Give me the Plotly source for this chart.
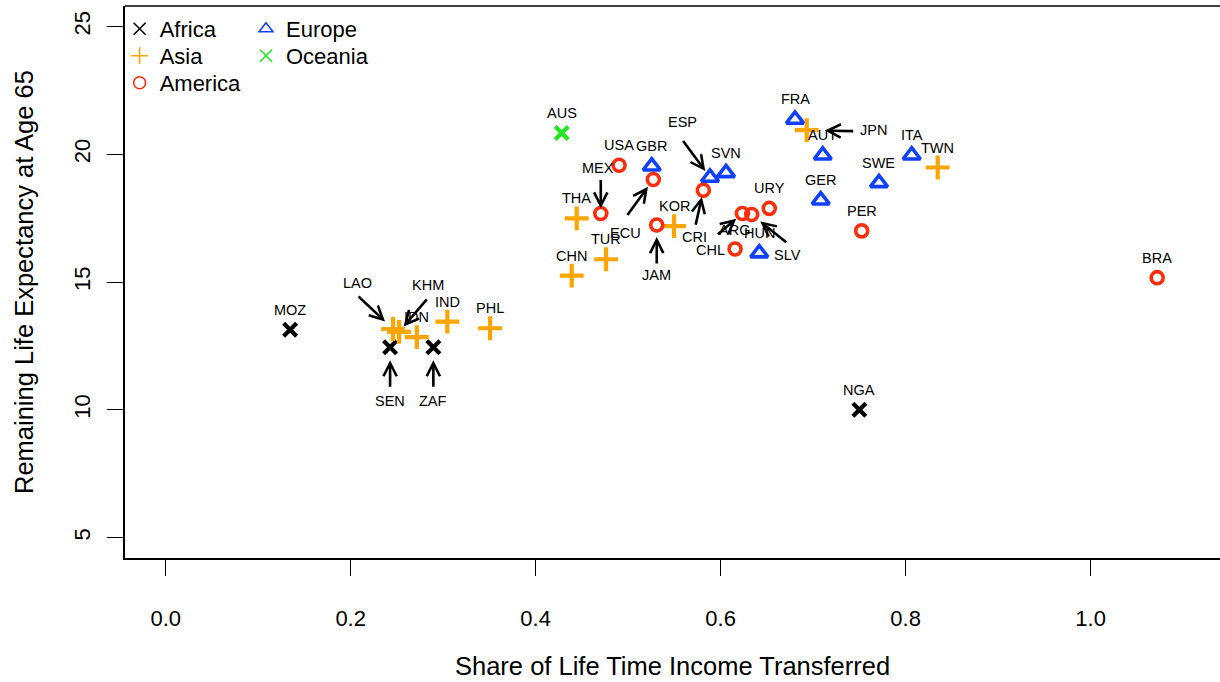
import plotly.graph_objects as go

# ---------------- data ----------------
codes = ["MOZ", "SEN", "ZAF", "NGA",
         "LAO", "KHM", "IDN", "IND", "PHL", "CHN", "TUR", "THA", "KOR", "JPN", "TWN",
         "USA", "MEX", "ECU", "JAM", "CRI", "ARG", "SLV", "URY", "CHL", "PER", "BRA",
         "GBR", "ESP", "SVN", "FRA", "AUT", "GER", "HUN", "SWE", "ITA",
         "AUS"]
share = [0.1345, 0.2426, 0.2894, 0.7500,
         0.2458, 0.2523, 0.2715, 0.3045, 0.3507, 0.4390, 0.4761, 0.4444, 0.5496, 0.6931, 0.8347,
         0.4902, 0.4704, 0.5272, 0.5309, 0.5813, 0.6235, 0.6336, 0.6526, 0.6156, 0.7525, 1.0720,
         0.5255, 0.5885, 0.6058, 0.6804, 0.7104, 0.7082, 0.6418, 0.7712, 0.8066,
         0.4282]
le65 = [13.13, 12.45, 12.45, 10.00,
        13.16, 13.05, 12.84, 13.45, 13.19, 15.25, 15.89, 17.49, 17.19, 20.94, 19.48,
        19.57, 17.68, 19.01, 17.23, 18.59, 17.68, 17.64, 17.88, 16.29, 17.00, 15.17,
        19.53, 19.09, 19.27, 21.36, 19.96, 18.20, 16.13, 18.88, 19.96,
        20.83]
region = (["Africa"] * 4 + ["Asia"] * 11 + ["America"] * 11 + ["Europe"] * 9 + ["Oceania"])

regions = ["Africa", "Asia", "America", "Europe", "Oceania"]
x_ticks = [0.0, 0.2, 0.4, 0.6, 0.8, 1.0]
y_ticks = [5, 10, 15, 20, 25]

# ---------------- styling ----------------
FONT = "Liberation Sans, Arial, Helvetica, sans-serif"
style = {
    "Africa":  dict(symbol="x-thin", color="#000000", size=13, lw=4.2),
    "Asia":    dict(symbol="cross-thin", color="#FFA500", size=17, lw=4.2),
    "America": dict(symbol="circle-open", color="#FF2D0A", size=12, lw=3.6),
    "Europe":  dict(symbol="triangle-up-open", color="#1040FF", size=15, lw=3.6),
    "Oceania": dict(symbol="x-thin", color="#22E622", size=13, lw=4.2),
}
# legend placement (one legend per entry, laid out in two columns)
legend_place = {
    "Africa": (-0.0049, 0.9965), "Asia": (-0.0049, 0.9476), "America": (-0.0049, 0.8987),
    "Europe": (0.1105, 0.9965), "Oceania": (0.1105, 0.9476),
}

# label offsets (px, dy downward) ; default above point
label_off = {
    "LAO": (-36, -46), "KHM": (29, -47), "SEN": (0, 54), "ZAF": (0, 54),
    "MEX": (-3, -46), "ECU": (-28, 53), "JAM": (0, 50), "CRI": (-9, 47),
    "ESP": (-28, -55), "JPN": (67, 0), "ARG": (-8, 16), "SLV": (36, 40),
    "CHL": (-25, 1),
}
# arrows: tail offset (px, dy downward) and standoff from point
arrow_spec = {
    "LAO": (-36, -34, 11), "KHM": (29, -34, 7), "SEN": (0, 41, 13), "ZAF": (0, 41, 13),
    "MEX": (0, -35, 5), "ECU": (-27, 37, 9), "JAM": (0, 40, 12), "CRI": (-8, 36, 7),
    "ESP": (-28, -38, 8), "JPN": (48, 1, 18), "ARG": (-26, 22, 8), "SLV": (36, 29, 11),
}

fig = go.Figure()

for r in regions:
    xs = [share[i] for i in range(len(codes)) if region[i] == r]
    ys = [le65[i] for i in range(len(codes)) if region[i] == r]
    s = style[r]
    fig.add_trace(go.Scatter(
        x=xs, y=ys, mode="markers", showlegend=False, hoverinfo="skip",
        marker=dict(symbol=s["symbol"], size=s["size"], color=s["color"],
                    line=dict(color=s["color"], width=s["lw"])),
    ))

legend_layouts = {}
for k, r in enumerate(regions):
    s = style[r]
    lname = "legend" if k == 0 else f"legend{k + 1}"
    fig.add_trace(go.Scatter(
        x=[None], y=[None], mode="markers", name=r, legend=lname,
        marker=dict(symbol=s["symbol"], size=12, color=s["color"],
                    line=dict(color=s["color"], width=1.6)),
    ))
    lx, ly = legend_place[r]
    legend_layouts[lname] = dict(x=lx, y=ly, xanchor="left", yanchor="top",
                                 bgcolor="rgba(0,0,0,0)",
                                 font=dict(family=FONT, size=22, color="black"),
                                 itemwidth=30, tracegroupgap=0)

annotations = []
for i, c in enumerate(codes):
    dx, dy = label_off.get(c, (0, -20))
    annotations.append(dict(
        x=share[i], y=le65[i], xref="x", yref="y", text=c, showarrow=False,
        xshift=dx, yshift=-dy, font=dict(family=FONT, size=14.5, color="black"),
        xanchor="center", yanchor="middle",
    ))
    if c in arrow_spec:
        ax, ay, so = arrow_spec[c]
        annotations.append(dict(
            x=share[i], y=le65[i], xref="x", yref="y", text="", showarrow=True,
            ax=ax, ay=ay, axref="pixel", ayref="pixel", standoff=so,
            arrowhead=5, arrowsize=1.0, arrowwidth=2.6, arrowcolor="black",
        ))

# axis titles
annotations.append(dict(x=0.5, y=0, xref="paper", yref="paper", yshift=-107.5,
                        text="Share of Life Time Income Transferred", showarrow=False,
                        font=dict(family=FONT, size=25.5, color="black"),
                        xanchor="center", yanchor="middle"))
annotations.append(dict(x=0, y=0.5, xref="paper", yref="paper", xshift=-101,
                        text="Remaining Life Expectancy at Age 65", showarrow=False,
                        textangle=-90, font=dict(family=FONT, size=25.5, color="black"),
                        xanchor="center", yanchor="middle"))

fig.update_layout(
    width=1220, height=682,
    margin=dict(l=125, r=0, t=5.5, b=123.5, pad=0),
    paper_bgcolor="white", plot_bgcolor="white",
    font=dict(family=FONT, color="black"),
    annotations=annotations,
    shapes=[dict(type="line", xref="paper", yref="paper", x0=0, x1=1, y0=1, y1=1,
                 line=dict(color="black", width=1.5))],
    **legend_layouts,
)

fig.update_xaxes(
    range=[-0.044, 1.1399], tickvals=x_ticks, ticktext=[f"{v:.1f}" for v in x_ticks],
    showgrid=False, zeroline=False, showline=True, mirror=False,
    linecolor="black", linewidth=1.5, ticks="outside", ticklen=16, tickwidth=1.3,
    tickcolor="black", tickfont=dict(family=FONT, size=22, color="black"),
    ticklabelstandoff=24,
)
fig.update_yaxes(
    range=[4.2, 25.8], tickvals=y_ticks, ticktext=[str(v) for v in y_ticks],
    showgrid=False, zeroline=False, showline=True, mirror=False,
    linecolor="black", linewidth=1.5, ticks="outside", ticklen=16, tickwidth=1.3,
    tickcolor="black", tickfont=dict(family=FONT, size=22, color="black"),
    tickangle=-90, ticklabelstandoff=8,
)

fig.write_html("out.html")
